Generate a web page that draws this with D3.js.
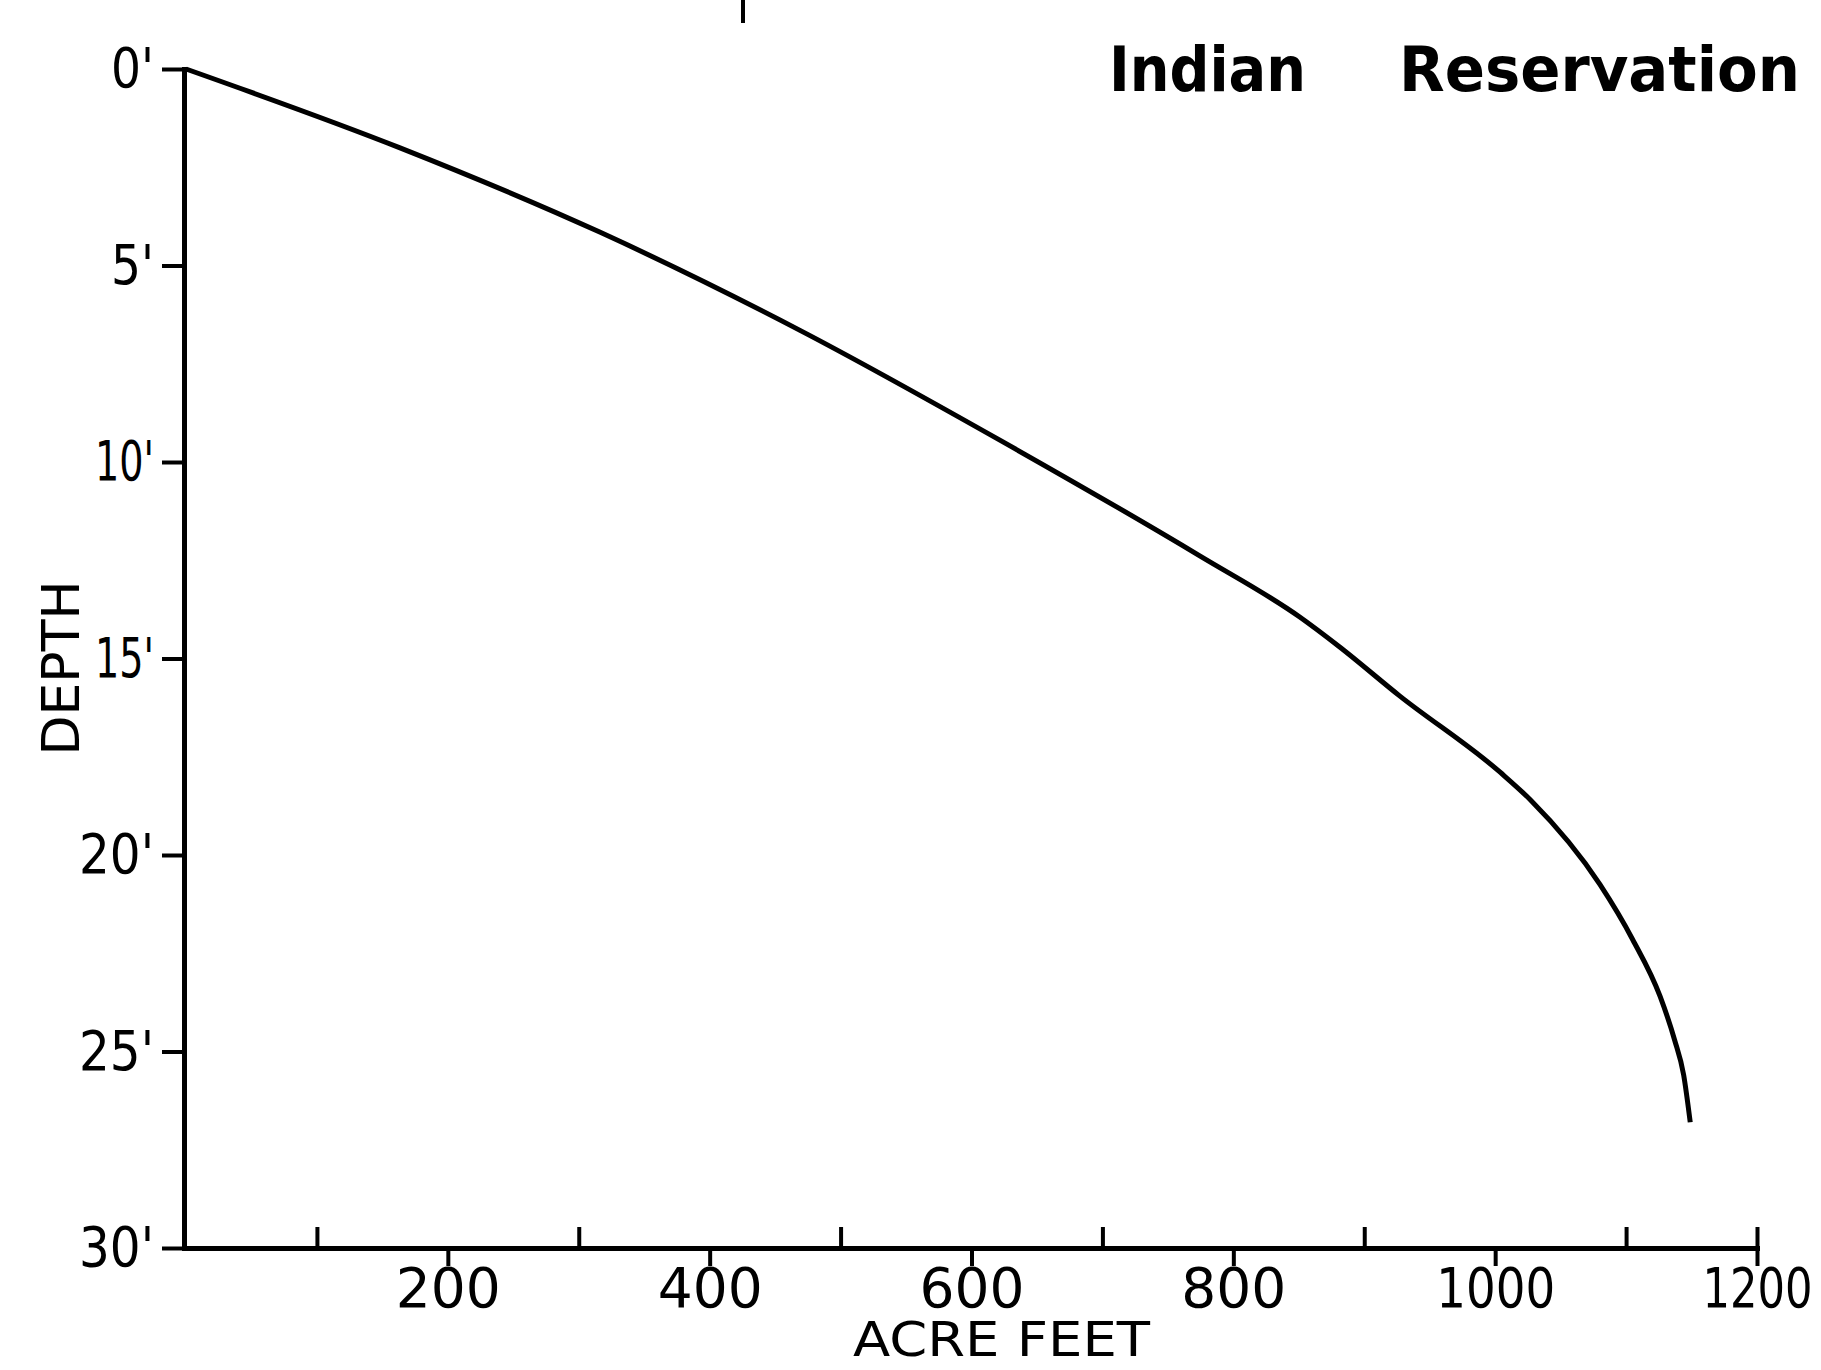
<!DOCTYPE html>
<html>
<head>
<meta charset="utf-8">
<script src="https://cdn.jsdelivr.net/npm/d3@7"></script>
<style>
  body { margin: 0; background: #fff; }
  svg { display: block; }
</style>
</head>
<body>
<div id="chart"></div>
<script>
// capacity curve: acre feet stored vs depth in feet
const acreFeet = [0, 163, 316, 469, 622, 775, 851, 881, 927, 1004, 1027, 1080, 1105, 1126, 1137, 1144, 1149];
const depth = [0, 2.0, 4.15, 6.65, 9.45, 12.4, 13.95, 14.7, 15.95, 17.9, 18.6, 20.75, 22.15, 23.6, 24.7, 25.6, 26.8];

const yTicks = [0, 5, 10, 15, 20, 25, 30];
const yTickLabels = ["0'", "5'", "10'", "15'", "20'", "25'", "30'"];
const xTicksLabelled = [200, 400, 600, 800, 1000, 1200];
const xTicksUpper = [100, 300, 500, 700, 900, 1100, 1200];

const width = 1821, height = 1370;
const font = "'DejaVu Sans', 'Liberation Sans', sans-serif";

const x = d3.scaleLinear().domain([0, 1200]).range([186, 1757]);
const y = d3.scaleLinear().domain([0, 30]).range([69, 1248]);

// the hand lettering has a narrow "1", so squeeze labels to its width
function letterWidth(s, wide, one, prime) {
    let w = 0;
    for (const c of s) w += c === "1" ? one : c === "'" ? prime : wide;
    return w;
}

const svg = d3.select("#chart").append("svg")
    .attr("width", width)
    .attr("height", height)
    .style("font-family", font);

svg.append("rect")
    .attr("width", width)
    .attr("height", height)
    .attr("fill", "white");

// y axis
const yAxis = d3.axisLeft(y)
    .tickValues(yTicks)
    .tickSize(22)
    .tickPadding(8)
    .tickSizeOuter(0)
    .tickFormat(function (d, i) { return yTickLabels[i]; });

const gy = svg.append("g")
    .attr("transform", "translate(" + (x(0) - 2) + ",0)")
    .call(yAxis);

gy.selectAll(".tick text")
    .style("font-size", "55px")
    .attr("textLength", function (d, i) { return letterWidth(yTickLabels[i], 32, 16, 11); })
    .attr("lengthAdjust", "spacingAndGlyphs");

// x axis, labelled ticks hang below the line
const xAxis = d3.axisBottom(x)
    .tickValues(xTicksLabelled)
    .tickSize(18)
    .tickPadding(2)
    .tickSizeOuter(0)
    .tickFormat(d3.format("d"));

const gx = svg.append("g")
    .attr("transform", "translate(0," + y(30) + ")")
    .call(xAxis);

gx.selectAll(".tick text")
    .style("font-size", "55px")
    .attr("textLength", function (d) { return letterWidth(String(d), d === 1200 ? 32 : 35, 14, 0); })
    .attr("lengthAdjust", "spacingAndGlyphs");

// odd hundreds tick upward
const xAxisTop = d3.axisTop(x)
    .tickValues(xTicksUpper)
    .tickSize(21)
    .tickSizeOuter(0)
    .tickFormat("");

const gxt = svg.append("g")
    .attr("transform", "translate(0," + y(30) + ")")
    .call(xAxisTop);
gxt.select(".domain").remove();

svg.selectAll(".domain")
    .attr("stroke", "#000")
    .attr("stroke-width", 5)
    .attr("stroke-linecap", "square");
svg.selectAll(".tick line")
    .attr("stroke", "#000")
    .attr("stroke-width", 4);
svg.selectAll(".tick text")
    .attr("fill", "#000")
    .style("font-family", font);

// curve
const line = d3.line()
    .x(function (d, i) { return x(acreFeet[i]); })
    .y(function (d) { return y(d); })
    .curve(d3.curveMonotoneX);

svg.append("path")
    .datum(depth)
    .attr("fill", "none")
    .attr("stroke", "#000")
    .attr("stroke-width", 5)
    .attr("stroke-linejoin", "round")
    .attr("d", line);

// axis titles
svg.append("text")
    .attr("transform", "translate(61,668) rotate(-90)")
    .attr("text-anchor", "middle")
    .attr("dominant-baseline", "central")
    .attr("textLength", 175)
    .attr("lengthAdjust", "spacingAndGlyphs")
    .style("font-size", "52px")
    .text("DEPTH");

svg.append("text")
    .attr("x", 853)
    .attr("y", 1356)
    .attr("textLength", 297)
    .attr("lengthAdjust", "spacingAndGlyphs")
    .style("font-size", "48px")
    .text("ACRE FEET");

// title fragment at top right
svg.append("text")
    .attr("x", 1109)
    .attr("y", 91)
    .attr("textLength", 197)
    .attr("lengthAdjust", "spacingAndGlyphs")
    .style("font-size", "62px")
    .style("font-weight", "bold")
    .text("Indian");

svg.append("text")
    .attr("x", 1399)
    .attr("y", 91)
    .attr("textLength", 401)
    .attr("lengthAdjust", "spacingAndGlyphs")
    .style("font-size", "62px")
    .style("font-weight", "bold")
    .text("Reservation");

// stub of the cut-off heading above the plot
svg.append("line")
    .attr("x1", 743).attr("x2", 743)
    .attr("y1", 0).attr("y2", 23)
    .attr("stroke", "#000")
    .attr("stroke-width", 4);
</script>
</body>
</html>
